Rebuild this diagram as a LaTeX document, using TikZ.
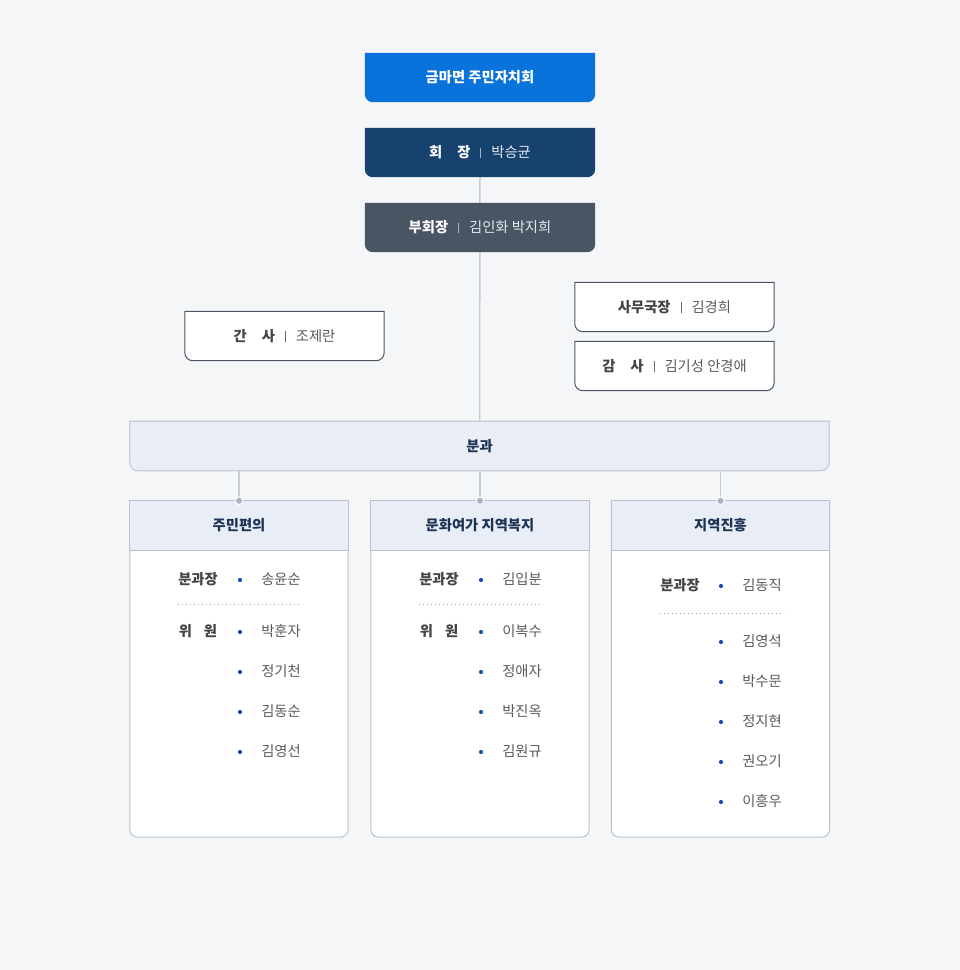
\documentclass[tikz,border=0pt]{standalone}
\usepackage{fontspec}
\setmainfont{Noto Sans CJK KR}
\usetikzlibrary{calc}
\definecolor{bgc}{HTML}{F5F6F8}
\definecolor{topblue}{HTML}{0A73DB}
\definecolor{chairnavy}{HTML}{17426E}
\definecolor{vicegray}{HTML}{4A5564}
\definecolor{wbord}{HTML}{4B5563}
\definecolor{lightfill}{HTML}{E8EDF6}
\definecolor{lightbord}{HTML}{C5CFDC}
\definecolor{colbord}{HTML}{B4C2D3}
\definecolor{conncol}{HTML}{C6CED8}
\definecolor{headtext}{HTML}{1E3354}
\definecolor{labtext}{HTML}{444444}
\definecolor{nametext}{HTML}{5A5A5A}
\definecolor{bullet}{HTML}{1A4FB0}
\definecolor{lightname}{HTML}{E3E9F1}
\definecolor{sepdark}{HTML}{A3B1C2}
\definecolor{seplight}{HTML}{6A6A6A}
\definecolor{dotcol}{HTML}{A9B5C4}
\pgfdeclarelayer{back}
\pgfdeclarelayer{boxes}
\pgfsetlayers{back,boxes,main}
\newcommand\bbox[3]{%
  \path[#2] (#1.north west) -- (#1.north east) -- ([yshift=#3]#1.south east)
    arc[start angle=0,end angle=-90,radius=#3] -- ([xshift=#3]#1.south west)
    arc[start angle=-90,end angle=-180,radius=#3] -- cycle;}
\newcommand\sepbar[1]{\hspace{10pt}{\color{#1}\rule[-0.2pt]{1pt}{10.5pt}}\hspace{10pt}}
\newcommand\fs{\fontsize{14.3}{16}\selectfont}
\tikzset{
  txt/.style={inner sep=0pt, font=\fs},
  boxn/.style={inner sep=0pt, minimum width=#1, minimum height=49pt, font=\fs},
  boxn/.default=230pt,
  conn/.style={draw=conncol, line width=1.5pt},
  lab/.style={txt, text=labtext, font=\fs\bfseries},
  nm/.style={txt, text=nametext},
  bul/.style={circle, fill=bullet, inner sep=0pt, minimum size=4.2pt},
  dotline/.style={draw=gray!70, line width=0.9pt, dash pattern=on 0.9pt off 3.1pt},
  colhead/.style={inner sep=0pt, minimum width=218pt, minimum height=49pt, text=headtext, font=\fs\bfseries},
  colbody/.style={inner sep=0pt, minimum width=218pt, minimum height=336pt},
  topdot/.style={circle, fill=dotcol, draw=white, line width=1pt, inner sep=0pt, minimum size=7.5pt}
}
\begin{document}
\begin{tikzpicture}[x=1pt,y=-1pt]
\begin{pgfonlayer}{back}
\fill[bgc] (0,0) rectangle (960,970);
\end{pgfonlayer}
\useasboundingbox (0,0) rectangle (960,970);

% top boxes
\node[boxn, text=white] (top) at (480,77.5) {\bfseries 금마면 주민자치회};
\node[boxn, text=white] (chair) at (480,152.5) {{\bfseries 회\hspace{15pt}장}\sepbar{sepdark}{\color{lightname}박승균}};
\node[boxn, text=white] (vice) at (480,227.5) {{\bfseries 부회장}\sepbar{sepdark}{\color{lightname}김인화 박지희}};

\node[boxn=199pt] (ganse) at (284.5,336) {{\bfseries\color{labtext}간\hspace{15pt}사}\sepbar{seplight}{\color{nametext}조제란}};
\node[boxn=199pt] (samu) at (674.5,307) {{\bfseries\color{labtext}사무국장}\sepbar{seplight}{\color{nametext}김경희}};
\node[boxn=199pt] (gamsa) at (674.5,366) {{\bfseries\color{labtext}감\hspace{15pt}사}\sepbar{seplight}{\color{nametext}김기성 안경애}};

\node[boxn=699pt, text=headtext] (bunkwa) at (479.5,446) {\bfseries 분과};

% columns
\node[colbody] (c1) at (239,669) {};
\node[colbody] (c2) at (480,669) {};
\node[colbody] (c3) at (720.5,669) {};
\node[colhead] (h1) at (239,525.5) {주민편의};
\node[colhead] (h2) at (480,525.5) {문화여가 지역복지};
\node[colhead] (h3) at (720.5,525.5) {지역진흥};

\begin{pgfonlayer}{boxes}
\draw[conn] (chair.south) -- (bunkwa.north);
\foreach \h in {h1,h2,h3} \draw[conn] (\h.north |- bunkwa.south) -- (\h.north);
\bbox{top}{fill=topblue}{8pt}
\bbox{chair}{fill=chairnavy}{8pt}
\bbox{vice}{fill=vicegray}{8pt}
\bbox{ganse}{fill=white, draw=wbord, line width=1pt}{8pt}
\bbox{samu}{fill=white, draw=wbord, line width=1pt}{8pt}
\bbox{gamsa}{fill=white, draw=wbord, line width=1pt}{8pt}
\bbox{bunkwa}{fill=lightfill, draw=lightbord, line width=1.2pt}{8pt}
\foreach \c/\h in {c1/h1,c2/h2,c3/h3}{
  \bbox{\c}{fill=white, draw=colbord, line width=1pt}{8pt}
  \path[fill=lightfill, draw=colbord, line width=1pt] (\h.north west) rectangle (\h.south east);
}
\end{pgfonlayer}
\foreach \h in {h1,h2,h3} \node[topdot] at (\h.north) {};

% column 1
\node[lab] (l1a) at (198,579) {분과장};
\node[bul] (b1a) at (240,580) {};
\node[nm] (n1a) at (281,579) {송윤순};
\draw[dotline] (178,604) -- (302,604);
\node[lab] (l1b) at (198,631) {위\hspace{12pt}원};
\node[bul] (b1b) at (240,632) {};
\node[nm] (n1b) at (281,631) {박훈자};
\node[bul] (b1c) at (240,672) {};
\node[nm] (n1c) at (281,671) {정기천};
\node[bul] (b1d) at (240,712) {};
\node[nm] (n1d) at (281,711) {김동순};
\node[bul] (b1e) at (240,752) {};
\node[nm] (n1e) at (281,751) {김영선};

% column 2
\node[lab] (l2a) at (439,579) {분과장};
\node[bul] (b2a) at (481,580) {};
\node[nm] (n2a) at (522,579) {김입분};
\draw[dotline] (419,604) -- (543,604);
\node[lab] (l2b) at (439,631) {위\hspace{12pt}원};
\node[bul] (b2b) at (481,632) {};
\node[nm] (n2b) at (522,631) {이복수};
\node[bul] (b2c) at (481,672) {};
\node[nm] (n2c) at (522,671) {정애자};
\node[bul] (b2d) at (481,712) {};
\node[nm] (n2d) at (522,711) {박진옥};
\node[bul] (b2e) at (481,752) {};
\node[nm] (n2e) at (522,751) {김원규};

% column 3
\node[lab] (l3a) at (680,585) {분과장};
\node[bul] (b3a) at (721,586) {};
\node[nm] (n3a) at (762,585) {김동직};
\draw[dotline] (660,613) -- (784,613);
\node[bul] (b3b) at (721,642) {};
\node[nm] (n3b) at (762,641) {김영석};
\node[bul] (b3c) at (721,682) {};
\node[nm] (n3c) at (762,681) {박수문};
\node[bul] (b3d) at (721,722) {};
\node[nm] (n3d) at (762,721) {정지현};
\node[bul] (b3e) at (721,762) {};
\node[nm] (n3e) at (762,761) {권오기};
\node[bul] (b3f) at (721,802) {};
\node[nm] (n3f) at (762,801) {이흥우};
\end{tikzpicture}
\end{document}
